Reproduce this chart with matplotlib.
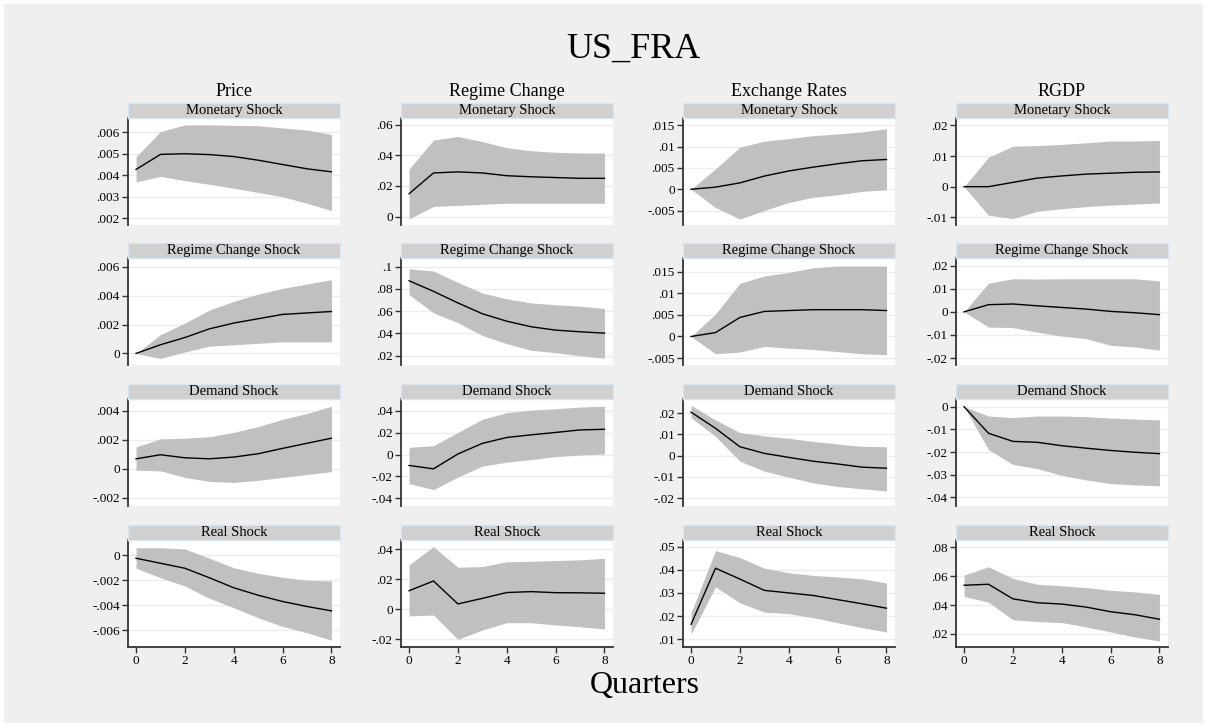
import matplotlib
matplotlib.use("Agg")
import matplotlib.pyplot as plt
from matplotlib.patches import Rectangle
from matplotlib.ticker import FuncFormatter

plt.rcParams['font.family'] = ['Liberation Serif', 'DejaVu Serif']

quarters = [0, 1, 2, 3, 4, 5, 6, 7, 8]
variables = ["Price", "Regime Change", "Exchange Rates", "RGDP"]
shocks = ["Monetary Shock", "Regime Change Shock", "Demand Shock", "Real Shock"]

# Price
p_mon = [.00427, .00497, .00500, .00496, .00487, .0047, .0045, .0043, .00416]
p_mon_lo = [.00369, .00395, .00375, .00358, .0034, .0032, .0030, .0027, .00236]
p_mon_hi = [.00486, .00603, .00634, .00634, .00632, .0063, .0062, .0061, .0059]
p_reg = [0, .0006, .0011, .0017, .0021, .0024, .0027, .0028, .0029]
p_reg_lo = [0, -.00035, .0001, .0005, .0006, .0007, .0008, .0008, .0008]
p_reg_hi = [0, .0013, .0021, .003, .0036, .0041, .0045, .0048, .0051]
p_dem = [.00068, .00096, .00075, .00068, .0008, .00103, .0014, .00175, .0021]
p_dem_lo = [-.0001, -.00015, -.0006, -.00088, -.00095, -.0008, -.0006, -.0004, -.0002]
p_dem_hi = [.0015, .00205, .0021, .0022, .0025, .0029, .0034, .0038, .0043]
p_real = [-.00024, -.00064, -.00104, -.0018, -.0026, -.0032, -.0037, -.0041, -.00445]
p_real_lo = [-.00104, -.0018, -.00246, -.00344, -.0042, -.005, -.0057, -.0062, -.0068]
p_real_hi = [.0006, .0006, .0005, -.00024, -.001, -.00144, -.00176, -.002, -.00206]

# Regime change
r_mon = [.0149, .0285, .0292, .0285, .0267, .026, .0255, .025, .025]
r_mon_lo = [-.0015, .0066, .0073, .008, .0087, .0087, .0087, .0087, .0087]
r_mon_hi = [.031, .050, .0523, .049, .045, .043, .042, .0415, .0415]
r_reg = [.0873, .0778, .0674, .0577, .051, .046, .043, .0415, .0403]
r_reg_lo = [.0748, .0585, .0496, .0382, .0308, .0249, .0228, .020, .0178]
r_reg_hi = [.098, .096, .0858, .0763, .071, .0674, .0658, .0644, .0624]
r_dem = [-.0099, -.013, .0006, .0103, .0157, .0181, .0203, .0226, .0232]
r_dem_lo = [-.0265, -.032, -.0205, -.0105, -.0069, -.0045, -.0018, -.0003, .0006]
r_dem_hi = [.0067, .0081, .0203, .0323, .0384, .0407, .042, .0435, .0444]
r_real = [.0124, .0189, .0036, .0073, .0112, .0118, .0111, .011, .0107]
r_real_lo = [-.0044, -.0038, -.020, -.0138, -.0089, -.0089, -.0104, -.0116, -.0131]
r_real_hi = [.0296, .0418, .028, .0285, .0317, .032, .0325, .033, .034]

# Exchange rates
e_mon = [0, .0005, .0015, .0031, .0043, .0052, .006, .0067, .007]
e_mon_lo = [0, -.0043, -.007, -.005, -.0031, -.0019, -.0013, -.0005, -.0001]
e_mon_hi = [0, .0048, .0099, .0113, .0119, .0126, .013, .0135, .0142]
e_reg = [0, .0009, .0044, .0058, .006, .0062, .0062, .0062, .006]
e_reg_lo = [0, -.004, -.0036, -.0023, -.0027, -.003, -.0035, -.004, -.0042]
e_reg_hi = [0, .0052, .0123, .014, .0148, .0159, .0163, .0163, .0163]
e_dem = [.0205, .0129, .0042, .0011, -.0008, -.0026, -.0039, -.0054, -.0059]
e_dem_lo = [.0179, .0091, -.0026, -.0073, -.0101, -.0128, -.0145, -.0156, -.0166]
e_dem_hi = [.0237, .0168, .0109, .0093, .0082, .0067, .0055, .0044, .0042]
e_real = [.0164, .0407, .036, .0311, .030, .0289, .0271, .0253, .0234]
e_real_lo = [.0121, .0326, .0257, .0217, .021, .0193, .0171, .015, .0131]
e_real_hi = [.0214, .0483, .0453, .0407, .0387, .0376, .0369, .0361, .0343]

# RGDP
g_mon = [0, 0, .0014, .0028, .0035, .0041, .0044, .0047, .0048]
g_mon_lo = [0, -.0093, -.0104, -.008, -.0072, -.0065, -.006, -.0057, -.0053]
g_mon_hi = [0, .0096, .0132, .0134, .0138, .0143, .0149, .0149, .0151]
g_reg = [0, .0031, .0034, .0026, .0019, .0012, .0002, -.0004, -.0012]
g_reg_lo = [0, -.0066, -.0068, -.0088, -.0105, -.0116, -.0145, -.0152, -.0166]
g_reg_hi = [0, .0124, .0143, .0142, .0143, .0143, .0143, .0143, .0134]
g_dem = [0, -.0117, -.0153, -.0157, -.0172, -.0183, -.0193, -.0201, -.0207]
g_dem_lo = [0, -.0189, -.0255, -.0273, -.0303, -.0323, -.0339, -.0345, -.0349]
g_dem_hi = [0, -.0041, -.0048, -.0041, -.0041, -.0044, -.005, -.0055, -.0058]
g_real = [.0537, .0544, .0443, .0416, .0407, .0386, .0354, .0333, .0302]
g_real_lo = [.046, .042, .0298, .0286, .0279, .0249, .0214, .0179, .0151]
g_real_hi = [.0607, .0665, .0584, .0544, .0533, .0521, .0502, .0491, .0474]

# y tick values per panel (row = shock, column = variable)
price_ticks = [[.002, .003, .004, .005, .006], [0, .002, .004, .006],
               [-.002, 0, .002, .004], [-.006, -.004, -.002, 0]]
regime_ticks = [[0, .02, .04, .06], [.02, .04, .06, .08, .1],
                [-.04, -.02, 0, .02, .04], [-.02, 0, .02, .04]]
exch_ticks = [[-.005, 0, .005, .01, .015], [-.005, 0, .005, .01, .015],
              [-.02, -.01, 0, .01, .02], [.01, .02, .03, .04, .05]]
rgdp_ticks = [[-.01, 0, .01, .02], [-.02, -.01, 0, .01, .02],
              [-.04, -.03, -.02, -.01, 0], [.02, .04, .06, .08]]

series = [
    [(p_mon, p_mon_lo, p_mon_hi), (p_reg, p_reg_lo, p_reg_hi),
     (p_dem, p_dem_lo, p_dem_hi), (p_real, p_real_lo, p_real_hi)],
    [(r_mon, r_mon_lo, r_mon_hi), (r_reg, r_reg_lo, r_reg_hi),
     (r_dem, r_dem_lo, r_dem_hi), (r_real, r_real_lo, r_real_hi)],
    [(e_mon, e_mon_lo, e_mon_hi), (e_reg, e_reg_lo, e_reg_hi),
     (e_dem, e_dem_lo, e_dem_hi), (e_real, e_real_lo, e_real_hi)],
    [(g_mon, g_mon_lo, g_mon_hi), (g_reg, g_reg_lo, g_reg_hi),
     (g_dem, g_dem_lo, g_dem_hi), (g_real, g_real_lo, g_real_hi)],
]
ticks = [price_ticks, regime_ticks, exch_ticks, rgdp_ticks]
ylims = [
    [(.00169, .00666), (-.0008, .0066), (-.00257, .0048), (-.00734, .00122)],
    [(-.0055, .0644), (.0117, .1077), (-.047, .0509), (-.0251, .0462)],
    [(-.0084, .01675), (-.0066, .01816), (-.0237, .0267), (.0066, .0529)],
    [(-.0125, .0224), (-.023, .0233), (-.0438, .0034), (.011, .085)],
]


def stata_fmt(v, pos=None):
    s = "%g" % round(v, 5)
    if s.startswith("0."):
        s = s[1:]
    elif s.startswith("-0."):
        s = "-" + s[2:]
    return s


W, H = 1207, 727
fig = plt.figure(figsize=(W / 100, H / 100), dpi=100, facecolor="white")
fig.patches.append(Rectangle((4 / W, 4 / H), 1 - 8 / W, 1 - 8 / H, transform=fig.transFigure,
                             facecolor="#efefef", edgecolor="none", zorder=-10))

col_left = [128, 401, 683, 956]
plot_w = 212
row_top = [118, 258, 399, 540]
plot_h = 107
strip_h = 15
axis_col = "#333333"

for c in range(4):
    for r in range(4):
        x0 = col_left[c]
        ax = fig.add_axes([x0 / W, 1 - (row_top[r] + plot_h) / H, plot_w / W, plot_h / H])
        ax.set_facecolor("white")
        irf, lo, hi = series[c][r]
        ax.fill_between(quarters, lo, hi, color="#c0c0c0", linewidth=0, zorder=2)
        ax.plot(quarters, irf, color="black", lw=1.0, zorder=3)
        ax.set_xlim(-0.33, 8.35)
        ax.set_ylim(*ylims[c][r])
        ax.set_yticks(ticks[c][r])
        ax.yaxis.set_major_formatter(FuncFormatter(stata_fmt))
        ax.yaxis.grid(True, color="#ececec", lw=1.0, zorder=1)
        ax.set_axisbelow(True)
        for s in ("top", "right"):
            ax.spines[s].set_visible(False)
        ax.spines["left"].set_color(axis_col)
        ax.spines["left"].set_linewidth(1.3)
        ax.tick_params(axis="y", length=4, width=1, color=axis_col, labelsize=9.5, pad=2)
        if r == 3:
            ax.set_xticks([0, 2, 4, 6, 8])
            ax.spines["bottom"].set_color(axis_col)
            ax.spines["bottom"].set_linewidth(1.3)
            ax.tick_params(axis="x", length=4, width=1, color=axis_col, labelsize=9.5, pad=2)
        else:
            ax.set_xticks([])
            ax.spines["bottom"].set_visible(False)

        # strip with the shock name
        sax = fig.add_axes([x0 / W, 1 - row_top[r] / H, plot_w / W, strip_h / H])
        sax.set_facecolor("#d0d0d0")
        sax.set_xticks([])
        sax.set_yticks([])
        for sp in sax.spines.values():
            sp.set_color("#dae6ef")
            sp.set_linewidth(1.0)
        sax.text(0.5, 0.5, shocks[r], ha="center", va="center", fontsize=10.5,
                 transform=sax.transAxes)

    fig.text((col_left[c] + plot_w / 2) / W, 1 - 91 / H, variables[c], ha="center",
             va="center", fontsize=13)

fig.text(633 / W, 1 - 49 / H, "US_FRA", ha="center", va="center", fontsize=26)
fig.text(645 / W, 1 - 686 / H, "Quarters", ha="center", va="center", fontsize=23)

fig.savefig("out.png", dpi=100, facecolor=fig.get_facecolor())
